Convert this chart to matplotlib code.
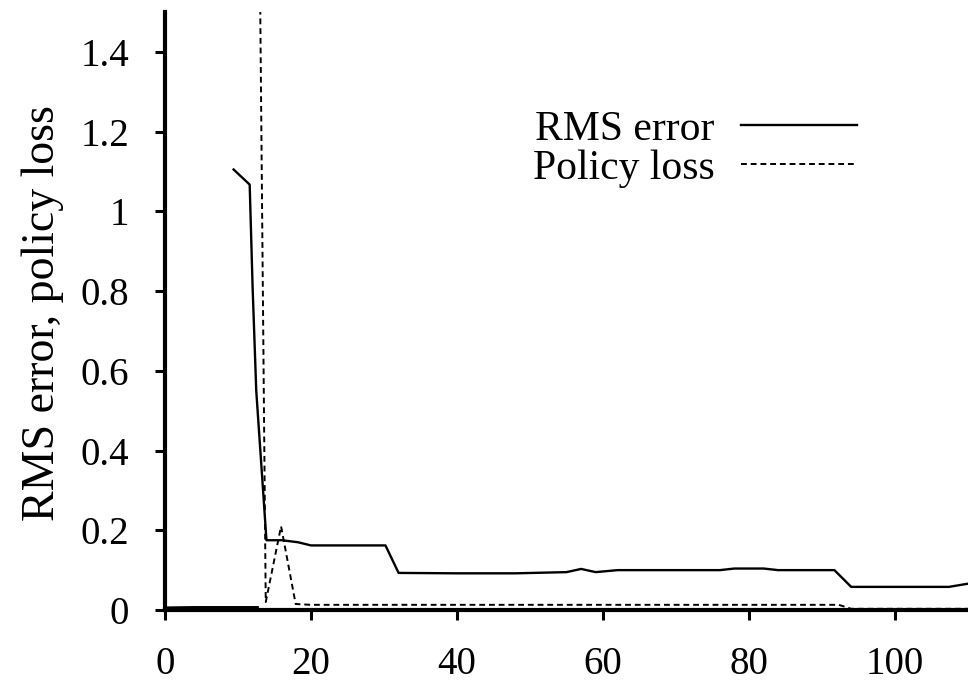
import matplotlib
matplotlib.use("Agg")
import matplotlib.pyplot as plt
import numpy as np

# values (NaN splits separate pieces)
rms_x = [0, 0, 4, 12.7, np.nan,
         9.4, 11.6, 12.0, 12.5, 13.9, 16, 18.2, 20, 30.2, 32, 40, 48,
         55, 57, 59, 62, 76, 78, 82, 84, 91.7, 94, 107.4, 110]
rms_y = [1.07, 0.006, 0.007, 0.007, np.nan,
         1.105, 1.067, 0.81, 0.55, 0.175, 0.175, 0.17, 0.162, 0.162, 0.093, 0.092, 0.092,
         0.095, 0.103, 0.095, 0.1, 0.1, 0.104, 0.104, 0.1, 0.1, 0.058, 0.058, 0.066]

pol_x = [13.0, 13.8, 15.9, 17.9, 20, 40, 60, 80, 92.3, 94, 110]
pol_y = [1.6, 0.02, 0.21, 0.015, 0.013, 0.013, 0.013, 0.013, 0.013, 0.003, 0.003]

x_ticks = [0, 20, 40, 60, 80, 100]
y_ticks = [0, 0.2, 0.4, 0.6, 0.8, 1.0, 1.2, 1.4]
y_tick_labels = ["0", "0.2", "0.4", "0.6", "0.8", "1", "1.2", "1.4"]

plt.rcParams["font.family"] = ["Liberation Serif", "DejaVu Serif"]

fig = plt.figure(figsize=(9.68, 6.86), dpi=100)
ax = fig.add_axes([165 / 968, 76 / 686, 1 - 165 / 968, (610 - 12) / 686])

ax.plot(rms_x, rms_y, color="black", lw=1.7, label="RMS error")
ax.plot(pol_x, pol_y, color="black", lw=1.4, linestyle=(0, (3, 2)), label="Policy loss")

ax.set_xlim(0, 110)
ax.set_ylim(0, 1.5)
ax.set_xticks(x_ticks)
ax.set_yticks(y_ticks)
ax.set_yticklabels(y_tick_labels)
ax.tick_params(axis="both", direction="out", length=7, width=2.2, labelsize=28, colors="black")
ax.tick_params(axis="x", pad=19)
ax.tick_params(axis="y", pad=19)

for side in ["top", "right"]:
    ax.spines[side].set_visible(False)
ax.spines["left"].set_linewidth(3)
ax.spines["bottom"].set_linewidth(3)

ax.set_ylabel("RMS error, policy loss", fontsize=33)
ax.yaxis.set_label_coords(-0.126, 0.497)

fig.legend(loc="upper left", bbox_to_anchor=(533 / 968, 1 - 110 / 686),
           frameon=False, markerfirst=False, fontsize=30, handlelength=2.8,
           handletextpad=0.62, labelspacing=0.02, borderpad=0, borderaxespad=0)

plt.savefig("out.png", dpi=100)
plt.close()
